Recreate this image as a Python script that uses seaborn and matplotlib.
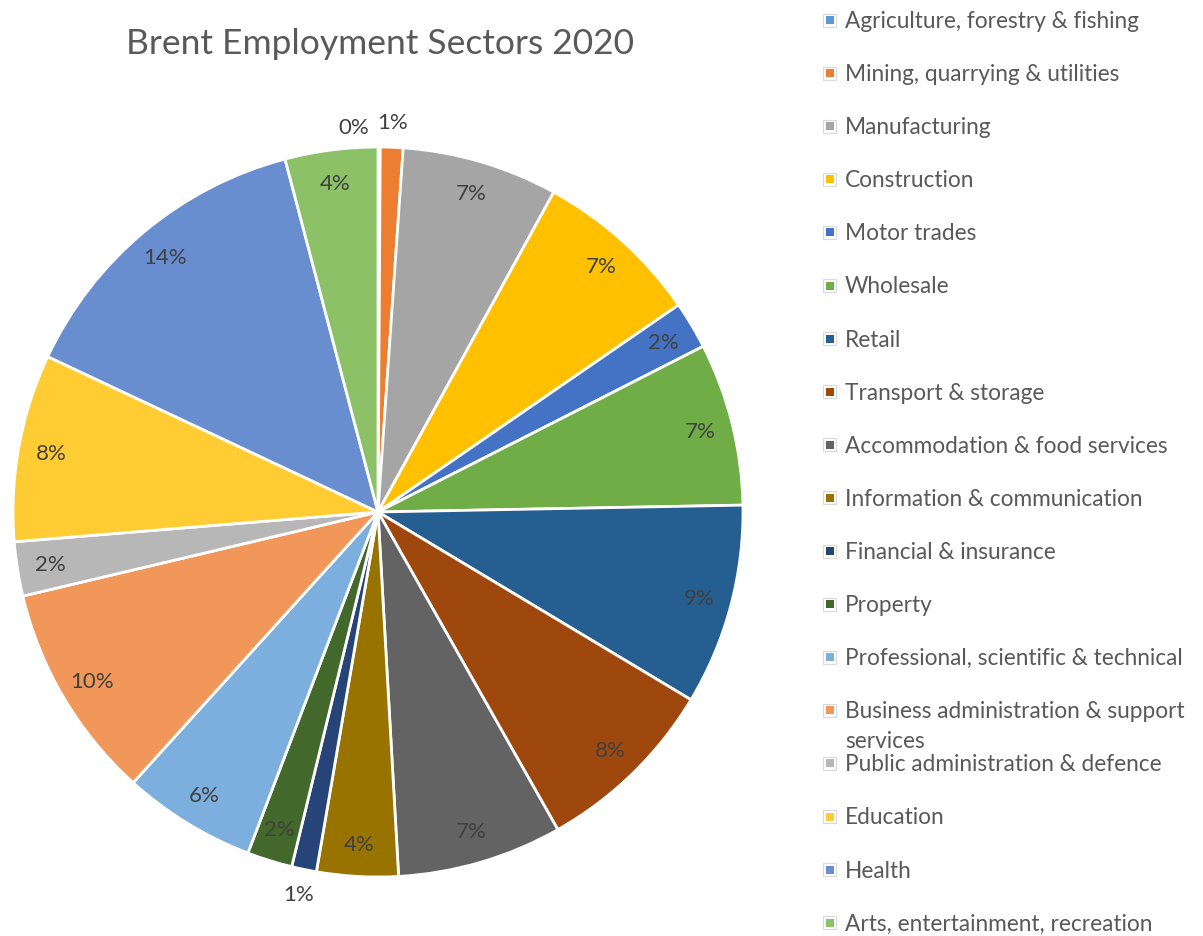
import numpy as np
import matplotlib
matplotlib.use("Agg")
import matplotlib.pyplot as plt
from matplotlib.patches import Rectangle
import seaborn as sns

sectors = [
    "Agriculture, forestry & fishing",
    "Mining, quarrying & utilities",
    "Manufacturing",
    "Construction",
    "Motor trades",
    "Wholesale",
    "Retail",
    "Transport & storage",
    "Accommodation & food services",
    "Information & communication",
    "Financial & insurance",
    "Property",
    "Professional, scientific & technical",
    "Business administration & support\nservices",
    "Public administration & defence",
    "Education",
    "Health",
    "Arts, entertainment, recreation",
]
shares = [0.1, 1.0, 6.9, 7.4, 2.1, 7.2, 8.9, 8.2, 7.3, 3.6, 1.1, 2.0, 5.9, 9.6, 2.4, 8.3, 13.9, 4.1]
colors = [
    "#5B9BD5", "#ED7D31", "#A5A5A5", "#FFC000", "#4472C4", "#70AD47",
    "#255E91", "#9E480E", "#636363", "#997300", "#264478", "#43682B",
    "#7CAFDD", "#F1975A", "#B7B7B7", "#FFCD33", "#698ED0", "#8CC168",
]

sns.set_theme(style="white")
plt.rcParams["font.family"] = ["Lato", "DejaVu Sans"]

W, H = 1203, 937
fig = plt.figure(figsize=(W / 100, H / 100), dpi=100)
fig.patch.set_facecolor("white")

cx, cy, r = 378, 513, 365
ax = fig.add_axes([(cx - r) / W, (H - cy - r) / H, 2 * r / W, 2 * r / H])
wedges, _ = ax.pie(
    shares, colors=colors, startangle=90, counterclock=False, radius=1.0,
    wedgeprops=dict(edgecolor="white", linewidth=2.0),
)
ax.set_xlim(-1, 1)
ax.set_ylim(-1, 1)
ax.set_aspect("equal")
ax.axis("off")

label_color = "#404040"
for w, v in zip(wedges, shares):
    mid = np.deg2rad((w.theta1 + w.theta2) / 2)
    if v < 0.5:
        # near-empty slice: label sits outside, nudged left of its neighbour
        dist, nudge = 1.055, -0.07
    elif v < 1.5:
        dist, nudge = 1.07, 0.0
    else:
        dist, nudge = 0.91, 0.0
    x = dist * np.cos(mid) + nudge
    y = dist * np.sin(mid)
    ax.text(x, y, f"{round(v):.0f}%", ha="center", va="center",
            fontsize=16, color=label_color)

fig.text(380 / W, 1 - 44 / H, "Brent Employment Sectors 2020", ha="center",
         va="center", fontsize=25.5, color="#595959")

# legend column
row_y0, row_step = 21, 53.1
for i, (name, c) in enumerate(zip(sectors, colors)):
    yc = row_y0 + i * row_step
    fig.patches.append(Rectangle((823 / W, 1 - (yc + 6.5) / H), 13 / W, 13 / H,
                                 transform=fig.transFigure, facecolor="white",
                                 edgecolor="#D9D9D9", linewidth=0.8))
    fig.patches.append(Rectangle((825.5 / W, 1 - (yc + 4) / H), 8 / W, 8 / H,
                                 transform=fig.transFigure, facecolor=c,
                                 edgecolor="none"))
    fig.text(845 / W, 1 - (yc - 10) / H, name, ha="left", va="top",
             fontsize=16.3, color="#595959", linespacing=1.5)

fig.savefig("out.png", dpi=100, facecolor="white")
